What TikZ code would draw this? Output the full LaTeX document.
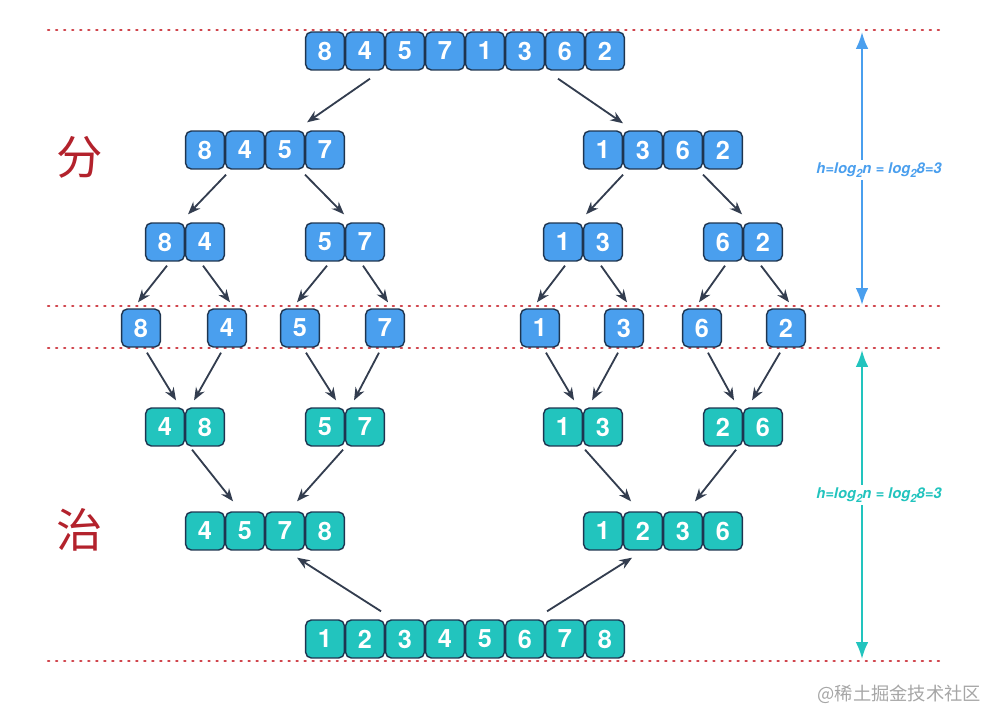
\documentclass[tikz,border=0pt]{standalone}
\usepackage{fontspec}
\setmainfont{TeX Gyre Heros}
\newfontfamily\cjk{Noto Sans CJK SC}
\usetikzlibrary{arrows.meta,calc}
\definecolor{boxblue}{HTML}{4A9FEE}
\definecolor{boxteal}{HTML}{22C4BE}
\definecolor{boxedge}{HTML}{1E3550}
\definecolor{arrowgray}{HTML}{333D4F}
\definecolor{dotred}{HTML}{D0454D}
\definecolor{hanred}{HTML}{B3222C}
\newcommand{\lowtwo}{\raisebox{-3pt}{\fontsize{8}{8}\selectfont 2}}
\tikzset{
	cell/.style={draw=boxedge, line width=1pt, rounded corners=4pt, minimum width=27.5pt, minimum height=27pt, inner sep=0pt, text=white, font=\fontsize{18}{18}\selectfont\bfseries},
	bluebox/.style={cell, fill=boxblue},
	tealbox/.style={cell, fill=boxteal},
	arr/.style={-{Stealth[length=9pt,width=7pt]}, arrowgray, line width=1.3pt},
	redline/.style={dotred, line width=1.5pt, line cap=round, dash pattern=on 1pt off 4.7pt},
	harr/.style={{Latex[length=12pt,width=9pt]}-{Latex[length=12pt,width=9pt]}, line width=1.6pt},
	hlabel/.style={fill=white, inner sep=2pt, font=\fontsize{10.5}{10.5}\selectfont\bfseries\itshape},
}
\begin{document}
\begin{tikzpicture}[x=0.025cm, y=-0.025cm]
				\useasboundingbox (0,0) rectangle (992,714);
				% level lines
				\foreach \y in {30,306,348,661}
				\draw[redline] (48,\y) -- (940,\y);
				
				% split
				\foreach \v [count=\i] in {8,4,5,7,1,3,6,2}
				\node[bluebox] (s1-\i) at (285+40*\i,51) {\v};
				\foreach \v [count=\i] in {8,4,5,7}
				\node[bluebox] (s2a\i) at (165+40*\i,150) {\v};
				\foreach \v [count=\i] in {1,3,6,2}
				\node[bluebox] (s2b\i) at (563+40*\i,150) {\v};
				\foreach \v [count=\i] in {8,4}
				\node[bluebox] (s3a\i) at (125+40*\i,242) {\v};
				\foreach \v [count=\i] in {5,7}
				\node[bluebox] (s3b\i) at (285+40*\i,242) {\v};
				\foreach \v [count=\i] in {1,3}
				\node[bluebox] (s3c\i) at (523+40*\i,242) {\v};
				\foreach \v [count=\i] in {6,2}
				\node[bluebox] (s3d\i) at (683+40*\i,242) {\v};
				\foreach \v/\x [count=\i] in {8/141,4/227,5/300,7/385,1/540,3/624,6/702,2/786}
				\node[bluebox] (s4-\i) at (\x,328) {\v};
				
				% merge
				\foreach \v [count=\i] in {4,8}
				\node[tealbox] (m3a\i) at (125+40*\i,427) {\v};
				\foreach \v [count=\i] in {5,7}
				\node[tealbox] (m3b\i) at (285+40*\i,427) {\v};
				\foreach \v [count=\i] in {1,3}
				\node[tealbox] (m3c\i) at (523+40*\i,427) {\v};
				\foreach \v [count=\i] in {2,6}
				\node[tealbox] (m3d\i) at (683+40*\i,427) {\v};
				\foreach \v [count=\i] in {4,5,7,8}
				\node[tealbox] (m2a\i) at (165+40*\i,531) {\v};
				\foreach \v [count=\i] in {1,2,3,6}
				\node[tealbox] (m2b\i) at (563+40*\i,531) {\v};
				\foreach \v [count=\i] in {1,...,8}
				\node[tealbox] (m1-\i) at (285+40*\i,639) {\v};
				
				% split arrows
				\draw[arr] ($(s1-2.south)+(5,8)$) -- ($(s2a3.north east)+(2,-8)$);
				\draw[arr] ($(s1-7.south)+(-7,8)$) -- ($(s2b1.north east)+(0,-7)$);
				\draw[arr] ($(s2a1.south east)+(1,5)$) -- ($(s3a1.north east)+(3,-8)$);
				\draw[arr] ($(s2a3.south east)+(0,5)$) -- ($(s3b1.north east)+(-1,-8)$);
				\draw[arr] ($(s2b1.south east)+(0,5)$) -- ($(s3c1.north east)+(3,-8)$);
				\draw[arr] ($(s2b3.south east)+(0,5)$) -- ($(s3d1.north east)+(-1,-8)$);
				\foreach \a/\b/\s in {s3a1/s4-1/1,s3a2/s4-2/-1,s3b1/s4-3/1,s3b2/s4-4/-1,s3c1/s4-5/1,s3c2/s4-6/-1,s3d1/s4-7/1,s3d2/s4-8/-1}
				\draw[arr] ($(\a.south)+(2*\s,4)$) -- ($(\b.north)+(-3*\s,-6)$);
				
				% merge arrows
				\foreach \a/\b/\s in {s4-1/m3a1/1,s4-2/m3a1/-1,s4-3/m3b1/1,s4-4/m3b1/-1,s4-5/m3c1/1,s4-6/m3c1/-1,s4-7/m3d1/1,s4-8/m3d1/-1}
				\draw[arr] ($(\a.south)+(6*\s,5)$) -- ($(\b.north east)+(-9*\s,-7)$);
				\draw[arr] ($(m3a1.south east)+(7,3)$) -- ($(m2a1.north east)+(8,-10)$);
				\draw[arr] ($(m3b1.south east)+(-2,3)$) -- ($(m2a3.north east)+(-8,-10)$);
				\draw[arr] ($(m3c1.south east)+(2,3)$) -- ($(m2b1.north east)+(8,-10)$);
				\draw[arr] ($(m3d1.south east)+(-7,3)$) -- ($(m2b3.north east)+(-8,-10)$);
				\draw[arr] ($(m1-2.north east)+(-4,-8)$) -- ($(m2a3.south east)+(-8,7)$);
				\draw[arr] ($(m1-6.north east)+(2,-8)$) -- ($(m2b1.south east)+(9,7)$);
				
				% height
				\coordinate (h1) at (862,32);
				\coordinate (h2) at (862,305);
				\coordinate (h3) at (862,350);
				\coordinate (h4) at (862,659);
				\draw[harr, boxblue] (h1) -- (h2);
				\draw[harr, boxteal] (h3) -- (h4);
				\node[hlabel, text=boxblue] (hsplit) at (879,170) {h=log\lowtwo n = log\lowtwo 8=3};
				\node[hlabel, text=boxteal] (hmerge) at (879,495) {h=log\lowtwo n = log\lowtwo 8=3};
				
				% labels
				\node[text=hanred, font=\cjk\fontsize{33}{33}\selectfont] (fen) at (80,157) {分};
				\node[text=hanred, font=\cjk\fontsize{33}{33}\selectfont] (zhi) at (80,530) {治};
				\node[anchor=east, text=gray!70, font=\cjk\fontsize{13}{13}\selectfont] (mark) at (986,694) {@稀土掘金技术社区};
			\end{tikzpicture}
\end{document}
